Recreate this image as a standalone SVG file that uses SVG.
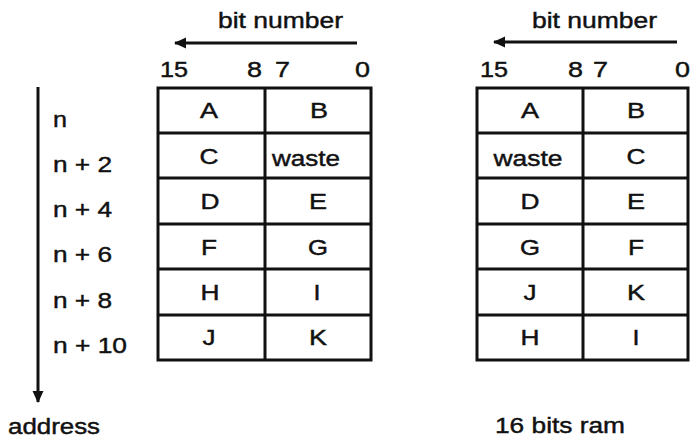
<svg xmlns="http://www.w3.org/2000/svg" width="690" height="440" viewBox="0 0 690 440">
<style>
text{font-family:"Liberation Sans",Arial,Helvetica,sans-serif;font-size:22.5px;fill:#111;stroke:#111;stroke-width:0.45;lengthAdjust:spacingAndGlyphs}
.c{text-anchor:middle}
.cell{fill:#fff;stroke:#111;stroke-width:3}
.ln{stroke:#111;stroke-width:3;fill:none}
</style>
<defs>
<marker id="ah" viewBox="0 0 12 12" refX="11" refY="6" markerWidth="12" markerHeight="12" markerUnits="userSpaceOnUse" orient="auto">
<path d="M0,0.5 L12,6 L0,11.5 Z" fill="#111"/>
</marker>
</defs>
<rect width="690" height="440" fill="#fff"/>

<g id="connectors">
<line class="ln" x1="357" y1="43" x2="175" y2="43" marker-end="url(#ah)"/>
<line class="ln" x1="677" y1="42" x2="494" y2="42" marker-end="url(#ah)"/>
<line class="ln" x1="38" y1="87" x2="38" y2="402" marker-end="url(#ah)"/>
</g>

<g id="labels-left">
<text x="218" y="28" textLength="125" lengthAdjust="spacingAndGlyphs">bit number</text>
<text x="160" y="77" textLength="28" lengthAdjust="spacingAndGlyphs">15</text>
<text x="247" y="77" textLength="15" lengthAdjust="spacingAndGlyphs">8</text>
<text x="275" y="77" textLength="15" lengthAdjust="spacingAndGlyphs">7</text>
<text x="355" y="77" textLength="15" lengthAdjust="spacingAndGlyphs">0</text>
</g>
<g id="address-labels">
<text x="53" y="127" textLength="14" lengthAdjust="spacingAndGlyphs">n</text>
<text x="53" y="172" textLength="59" lengthAdjust="spacingAndGlyphs">n + 2</text>
<text x="53" y="217" textLength="59" lengthAdjust="spacingAndGlyphs">n + 4</text>
<text x="53" y="262" textLength="59" lengthAdjust="spacingAndGlyphs">n + 6</text>
<text x="53" y="308" textLength="59" lengthAdjust="spacingAndGlyphs">n + 8</text>
<text x="53" y="353" textLength="74" lengthAdjust="spacingAndGlyphs">n + 10</text>
<text x="8" y="434" textLength="92" lengthAdjust="spacingAndGlyphs">address</text>
</g>

<g id="table-left">
<rect class="cell" x="158" y="88" width="213" height="272"/>
<line class="ln" x1="265" y1="88" x2="265" y2="360"/>
<line class="ln" x1="158" y1="133" x2="371" y2="133"/>
<line class="ln" x1="158" y1="178" x2="371" y2="178"/>
<line class="ln" x1="158" y1="224" x2="371" y2="224"/>
<line class="ln" x1="158" y1="269" x2="371" y2="269"/>
<line class="ln" x1="158" y1="315" x2="371" y2="315"/>
<text class="c" x="209" y="118" textLength="18" lengthAdjust="spacingAndGlyphs">A</text>
<text class="c" x="319" y="118" textLength="18" lengthAdjust="spacingAndGlyphs">B</text>
<text class="c" x="209" y="164" textLength="19" lengthAdjust="spacingAndGlyphs">C</text>
<text class="c" x="306" y="166" textLength="68" lengthAdjust="spacingAndGlyphs">waste</text>
<text class="c" x="210" y="209" textLength="19" lengthAdjust="spacingAndGlyphs">D</text>
<text class="c" x="318" y="209" textLength="18" lengthAdjust="spacingAndGlyphs">E</text>
<text class="c" x="209" y="255" textLength="16" lengthAdjust="spacingAndGlyphs">F</text>
<text class="c" x="318" y="255" textLength="20" lengthAdjust="spacingAndGlyphs">G</text>
<text class="c" x="210" y="300" textLength="19" lengthAdjust="spacingAndGlyphs">H</text>
<text class="c" x="317" y="300" textLength="7" lengthAdjust="spacingAndGlyphs">I</text>
<text class="c" x="209" y="345" textLength="13" lengthAdjust="spacingAndGlyphs">J</text>
<text class="c" x="318" y="345" textLength="18" lengthAdjust="spacingAndGlyphs">K</text>
</g>

<g id="labels-right">
<text x="532" y="28" textLength="125" lengthAdjust="spacingAndGlyphs">bit number</text>
<text x="480" y="77" textLength="28" lengthAdjust="spacingAndGlyphs">15</text>
<text x="568" y="77" textLength="15" lengthAdjust="spacingAndGlyphs">8</text>
<text x="593" y="77" textLength="15" lengthAdjust="spacingAndGlyphs">7</text>
<text x="675" y="77" textLength="15" lengthAdjust="spacingAndGlyphs">0</text>
<text x="495" y="433" textLength="130" lengthAdjust="spacingAndGlyphs">16 bits ram</text>
</g>

<g id="table-right">
<rect class="cell" x="477" y="88" width="211" height="272"/>
<line class="ln" x1="583" y1="88" x2="583" y2="360"/>
<line class="ln" x1="477" y1="133" x2="688" y2="133"/>
<line class="ln" x1="477" y1="178" x2="688" y2="178"/>
<line class="ln" x1="477" y1="224" x2="688" y2="224"/>
<line class="ln" x1="477" y1="269" x2="688" y2="269"/>
<line class="ln" x1="477" y1="315" x2="688" y2="315"/>
<text class="c" x="530" y="118" textLength="18" lengthAdjust="spacingAndGlyphs">A</text>
<text class="c" x="636" y="118" textLength="18" lengthAdjust="spacingAndGlyphs">B</text>
<text class="c" x="528" y="166" textLength="69" lengthAdjust="spacingAndGlyphs">waste</text>
<text class="c" x="636" y="164" textLength="19" lengthAdjust="spacingAndGlyphs">C</text>
<text class="c" x="530" y="209" textLength="19" lengthAdjust="spacingAndGlyphs">D</text>
<text class="c" x="636" y="209" textLength="18" lengthAdjust="spacingAndGlyphs">E</text>
<text class="c" x="530" y="255" textLength="20" lengthAdjust="spacingAndGlyphs">G</text>
<text class="c" x="636" y="255" textLength="16" lengthAdjust="spacingAndGlyphs">F</text>
<text class="c" x="530" y="300" textLength="13" lengthAdjust="spacingAndGlyphs">J</text>
<text class="c" x="636" y="300" textLength="18" lengthAdjust="spacingAndGlyphs">K</text>
<text class="c" x="530" y="345" textLength="19" lengthAdjust="spacingAndGlyphs">H</text>
<text class="c" x="636" y="345" textLength="7" lengthAdjust="spacingAndGlyphs">I</text>
</g>
</svg>
